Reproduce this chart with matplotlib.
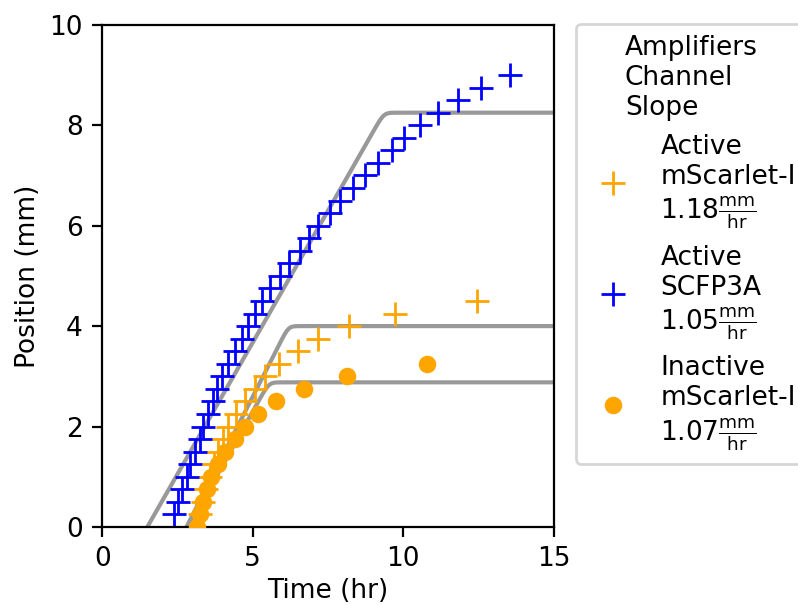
import numpy as np
import matplotlib
matplotlib.use("Agg")
import matplotlib.pyplot as plt

plt.rcParams["font.size"] = 9.5

# Active mScarlet-I (orange crosses)
act_ms_time = [3.15, 3.25, 3.35, 3.45, 3.58, 3.7, 3.86, 4.03, 4.19, 4.45,
               4.75, 5.08, 5.41, 5.87, 6.5, 7.17, 8.2, 9.72, 12.45]
act_ms_pos = [0.0, 0.25, 0.5, 0.75, 1.0, 1.25, 1.5, 1.75, 2.0, 2.25,
              2.5, 2.75, 3.0, 3.25, 3.5, 3.75, 4.0, 4.25, 4.5]

# Active SCFP3A (blue crosses)
act_cfp_time = [2.37, 2.53, 2.64, 2.81, 2.92, 3.09, 3.25, 3.36, 3.53, 3.69,
                3.82, 3.99, 4.19, 4.41, 4.64, 4.86, 5.08, 5.32, 5.58, 5.9,
                6.2, 6.57, 6.87, 7.17, 7.57, 7.9, 8.33, 8.73, 9.16, 9.62,
                10.02, 10.55, 11.15, 11.82, 12.58, 13.54]
act_cfp_pos = [0.25, 0.5, 0.75, 1.0, 1.25, 1.5, 1.75, 2.0, 2.25, 2.5,
               2.75, 3.0, 3.25, 3.5, 3.75, 4.0, 4.25, 4.5, 4.75, 5.0,
               5.25, 5.5, 5.75, 6.0, 6.25, 6.5, 6.75, 7.0, 7.25, 7.5,
               7.75, 8.0, 8.25, 8.5, 8.75, 9.0]

# Inactive mScarlet-I (orange dots)
inact_ms_time = [3.15, 3.25, 3.35, 3.47, 3.62, 3.86, 4.08, 4.41, 4.75, 5.17,
                 5.77, 6.7, 8.14, 10.78]
inact_ms_pos = [0.0, 0.25, 0.5, 0.75, 1.0, 1.25, 1.5, 1.75, 2.0, 2.25,
                2.5, 2.75, 3.0, 3.25]

# fit parameters: (slope mm/hr, start hr, plateau mm)
fit_act_ms = (1.18, 2.8, 4.0)
fit_act_cfp = (1.05, 1.5, 8.25)
fit_inact_ms = (1.07, 2.85, 2.88)

labels = ["Active\nmScarlet-I\n1.18$\\frac{\\mathrm{mm}}{\\mathrm{hr}}$",
          "Active\nSCFP3A\n1.05$\\frac{\\mathrm{mm}}{\\mathrm{hr}}$",
          "Inactive\nmScarlet-I\n1.07$\\frac{\\mathrm{mm}}{\\mathrm{hr}}$"]


def fit_curve(t, slope, t0, plateau, soft=0.08):
    # linear ramp that bends smoothly into a plateau
    lin = slope * (t - t0)
    return plateau - soft * np.logaddexp(0, (plateau - lin) / soft)


fig = plt.figure(figsize=(3.99, 3.025), dpi=200)
ax = fig.add_axes([0.128, 0.129, 0.566, 0.830])

t = np.linspace(0, 15, 600)
for p in (fit_act_cfp, fit_act_ms, fit_inact_ms):
    ax.plot(t, fit_curve(t, *p), color="#999999", lw=1.5, zorder=1)

h1, = ax.plot(act_ms_time, act_ms_pos, "+", color="orange", ms=8.5, mew=1.0, zorder=2)
h2, = ax.plot(act_cfp_time, act_cfp_pos, "+", color="blue", ms=8.5, mew=1.0, zorder=2)
h3, = ax.plot(inact_ms_time, inact_ms_pos, "o", color="orange", ms=5.3, zorder=3)

ax.set_xlim(0, 15)
ax.set_ylim(0, 10)
ax.set_xticks([0, 5, 10, 15])
ax.set_yticks([0, 2, 4, 6, 8, 10])
ax.set_xlabel("Time (hr)", labelpad=2)
ax.set_ylabel("Position (mm)", labelpad=3)

fig.legend([h1, h2, h3], labels, title="Amplifiers\nChannel\nSlope",
           loc="upper left", bbox_to_anchor=(576 / 798, 1 - 24 / 605),
           bbox_transform=fig.transFigure, borderaxespad=0)

fig.savefig("out.png", dpi=200)
